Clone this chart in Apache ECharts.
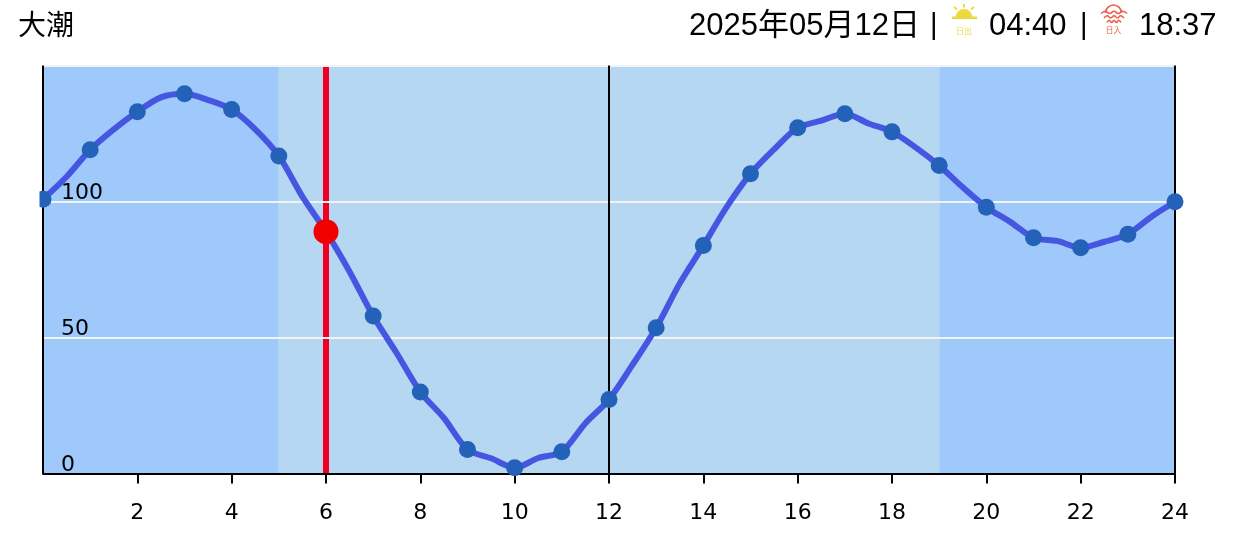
<!DOCTYPE html>
<html><head><meta charset="utf-8">
<style>html,body{margin:0;padding:0;background:#fff}#c{width:1238px;height:534px}</style>
<script src="https://cdn.jsdelivr.net/npm/echarts@6/dist/echarts.min.js"></script></head>
<body><div id="c"></div>
<script>
const markerHours=[0,1,2,3,4,5,6,7,8,9,10,11,12,13,14,15,16,17,18,19,20,21,22,23,24];
const markerTide=[100.8,119,133,139.6,133.8,116.7,88.9,57.9,30,8.8,2.1,8,27.2,53.6,83.8,110.2,127.1,132.3,125.6,113.2,97.9,86.7,83,88,99.9];
const lineHours=[0,0.5,1,1.5,2,2.5,3,3.5,4,4.5,5,5.5,6,6.5,7,7.5,8,8.5,9,9.5,10,10.5,11,11.5,12,12.5,13,13.5,14,14.5,15,15.5,16,16.5,17,17.5,18,18.5,19,19.5,20,20.5,21,21.5,22,22.5,23,23.5,24];
const lineTide=[100.8,109.1,119,126.5,133,138.3,139.6,137.3,133.8,126.5,116.7,101.8,88.9,74.2,57.9,44.2,30,20.4,8.8,5.6,2.1,5.7,8,18.5,27.2,40,53.6,69.9,83.8,98.1,110.2,119.2,127.1,129.7,132.3,128.7,125.6,119.9,113.2,105.2,97.9,92.6,86.7,85.5,83,85.2,88,94.4,99.9];
const xTicks=[2,4,6,8,10,12,14,16,18,20,22,24];
const yTicks=[0,50,100];
const gridValues=[50,100,150];
const nightRanges=[[0,5],[19,24]];
const dayRange=[5,19];
const blackLines=[0,12,24];
const currentHour=6, currentTide=88.9;
const tideName='大潮', dateText='2025年05月12日', sunrise='04:40', sunset='18:37';
const NIGHT='#9fc9fb',DAY='#b5d7f1';
const font='"DejaVu Sans"';
const head='"Liberation Sans","Noto Sans CJK JP"';
const cjk='"Noto Sans CJK JP"';
const chart=echarts.init(document.getElementById('c'),null,{renderer:'canvas'});
function txt(x,y,s,size,color,ff,align){return {type:'text',x,y,silent:true,style:{text:s,font:size+'px '+(ff||head),fill:color||'#000',textAlign:align||'left',textVerticalAlign:'middle'}};}
const SUN='#ecd83f',RED='#e8604c';
function wave(x,y,w){const p=[];for(let i=0;i<=6;i++)p.push([x+i*w/6,y+(i%2?-1.3:1)]);return {type:'polyline',silent:true,shape:{points:p,smooth:0.5},style:{stroke:RED,lineWidth:1.6,fill:null}};}
chart.setOption({
 animation:false,
 grid:{left:43,right:63,top:65.5,bottom:60.5,containLabel:false},
 xAxis:{type:'value',min:0,max:24,interval:2,z:8,
  axisLine:{show:true,onZero:false,lineStyle:{color:'#000',width:2}},
  axisTick:{show:true,length:10,customValues:xTicks,lineStyle:{color:'#000',width:2}},
  axisLabel:{color:'#000',fontFamily:font,fontSize:22,margin:29,customValues:xTicks,formatter:v=>String(v)},
  splitLine:{show:false}},
 yAxis:{type:'value',min:0,max:150,interval:50,z:8,
  axisLine:{show:false},axisTick:{show:false},splitLine:{show:false},
  axisLabel:{inside:true,margin:18,color:'#000',fontFamily:font,fontSize:22,verticalAlign:'bottom',lineHeight:17,
   formatter:v=>yTicks.includes(v)?String(v):''}},
 series:[
  {type:'line',data:[],z:1,silent:true,
   markArea:{silent:true,data:[
     ...nightRanges.map(r=>[{xAxis:r[0],itemStyle:{color:NIGHT,opacity:1}},{xAxis:r[1]}]),
     [{xAxis:dayRange[0],itemStyle:{color:DAY,opacity:1}},{xAxis:dayRange[1]}]]}},
  {type:'line',data:[],z:2,silent:true,
   markLine:{silent:true,symbol:'none',animation:false,label:{show:false},
    data:[{xAxis:currentHour,lineStyle:{color:'#f00020',width:6,type:'solid'}}]}},
  {type:'line',data:[],z:3,silent:true,
   markLine:{silent:true,symbol:'none',animation:false,label:{show:false},
    data:[
     ...gridValues.map(v=>({yAxis:v,lineStyle:{color:'#f0f4f8',width:2,type:'solid'}})),
     ...blackLines.map(v=>({xAxis:v,lineStyle:{color:'#000',width:2,type:'solid'}}))]}},
  {type:'line',z:9,smooth:0.3,data:lineHours.map((h,i)=>[h,lineTide[i]]),showSymbol:false,clip:false,silent:true,
   lineStyle:{color:'#4557e0',width:6}},
  {type:'scatter',z:10,data:markerHours.map((h,i)=>[h,markerTide[i]]),symbol:'circle',symbolSize:17,clip:false,silent:true,
   itemStyle:{color:'#2461b8',opacity:1}},
  {type:'scatter',z:11,data:[[currentHour,currentTide]],symbolSize:25,clip:false,itemStyle:{color:'#f00000',opacity:1},silent:true}
 ],
 graphic:[
  {type:'rect',silent:true,z:100,shape:{x:30,y:188,width:9.5,height:24},style:{fill:'#fff'}},
  txt(18,24,tideName,28,'#000',cjk),
  txt(689,26,dateText,31),
  txt(930,26,'|',29),
  txt(989,26,sunrise,31),
  txt(1080,26,'|',29),
  txt(1139,26,sunset,31),
  {type:'sector',silent:true,shape:{cx:964,cy:17.5,r:8.5,startAngle:Math.PI,endAngle:2*Math.PI},style:{fill:SUN}},
  {type:'rect',silent:true,shape:{x:952,y:16.5,width:25,height:2.5},style:{fill:SUN}},
  {type:'line',silent:true,shape:{x1:964,y1:4,x2:964,y2:7.5},style:{stroke:SUN,lineWidth:2}},
  {type:'line',silent:true,shape:{x1:954,y1:7,x2:957,y2:9.5},style:{stroke:SUN,lineWidth:2}},
  {type:'line',silent:true,shape:{x1:974,y1:7,x2:971,y2:9.5},style:{stroke:SUN,lineWidth:2}},
  txt(964,30.5,'日出',8,SUN,cjk,'center'),
  {type:'arc',silent:true,shape:{cx:1113.5,cy:13,r:8,startAngle:Math.PI,endAngle:2*Math.PI},style:{fill:null,stroke:RED,lineWidth:1.6}},
  wave(1101,12.5,26),wave(1104,17,20),wave(1107,21.5,14),
  txt(1113.5,30,'日入',8,RED,cjk,'center')
 ]
});
</script></body></html>
